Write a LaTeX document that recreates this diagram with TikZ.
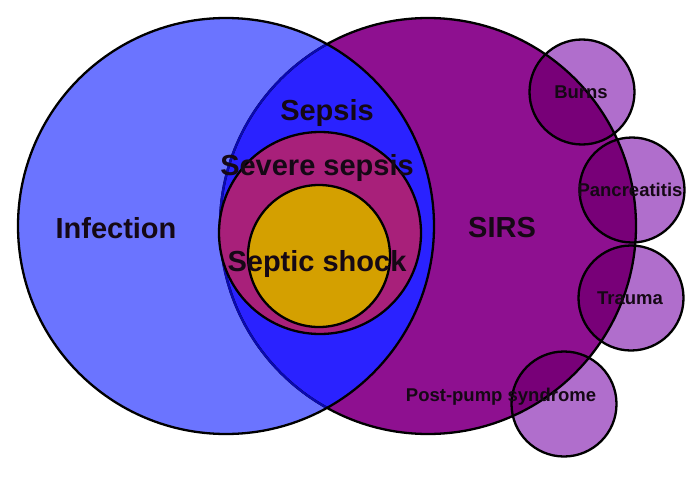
\documentclass[tikz,border=0pt]{standalone}
\usepackage{fontspec}
\setmainfont{Liberation Sans}
\definecolor{infc}{HTML}{6B74FF}
\definecolor{sirsc}{HTML}{8E1090}
\definecolor{lensc}{HTML}{2A22FF}
\definecolor{lensedge}{HTML}{0A0AB0}
\definecolor{sevc}{HTML}{A8207A}
\definecolor{shockc}{HTML}{D4A000}
\definecolor{smallc}{HTML}{B06ECC}
\definecolor{darkc}{HTML}{780078}
\definecolor{txt}{HTML}{150815}
\tikzset{
  outline/.style={draw=black, line width=2.3pt},
  biglabel/.style={text=txt, font=\fontsize{29}{31}\selectfont\bfseries, inner sep=0pt},
  smalllabel/.style={text=txt, font=\fontsize{18.5}{20}\selectfont\bfseries, inner sep=0pt}
}
\begin{document}
\begin{tikzpicture}[x=1pt,y=-1pt]
\useasboundingbox (0,0) rectangle (700,476);
\coordinate (I) at (226,226);
\coordinate (S) at (428,226);
\coordinate (SS) at (320,233);
\coordinate (SH) at (319,256);
\coordinate (B) at (582,92);
\coordinate (P) at (632,190);
\coordinate (T) at (631,298);
\coordinate (PP) at (564,404);
% big circles
\fill[infc] (I) circle (208);
\fill[sirsc] (S) circle (208);
\begin{scope}
  \clip (I) circle (208);
  \fill[lensc] (S) circle (208);
\end{scope}
% small circles
\foreach \c in {B,P,T,PP}{
  \fill[smallc] (\c) circle (52.5);
  \begin{scope}
    \clip (S) circle (208);
    \fill[darkc] (\c) circle (52.5);
  \end{scope}
}
\draw[outline] (S) circle (208);
\foreach \c in {B,P,T,PP}{
  \draw[outline] (\c) circle (52.5);
}
\begin{scope}
  \clip (I) circle (207);
  \draw[lensedge, line width=2.3pt] (S) circle (208);
\end{scope}
\draw[outline] (I) circle (208);
% sepsis rings
\fill[sevc] (SS) circle (101);
\draw[outline] (SS) circle (101);
\fill[shockc] (SH) circle (71);
\draw[outline] (SH) circle (71);
% labels
\node[biglabel] (linf) at (116,228) {Infection};
\node[biglabel] (lsirs) at (502,228) {SIRS};
\node[biglabel] (lsep) at (327,113) {Sepsis};
\node[biglabel] (lsev) at (317,168) {Severe sepsis};
\node[biglabel] (lsh) at (317,264) {Septic shock};
\node[smalllabel] (lb) at (581,92) {Burns};
\node[smalllabel] (lp) at (630,190) {Pancreatitis};
\node[smalllabel] (lt) at (630,298) {Trauma};
\node[smalllabel] (lpp) at (501,397) {Post-pump syndrome};
\end{tikzpicture}
\end{document}
